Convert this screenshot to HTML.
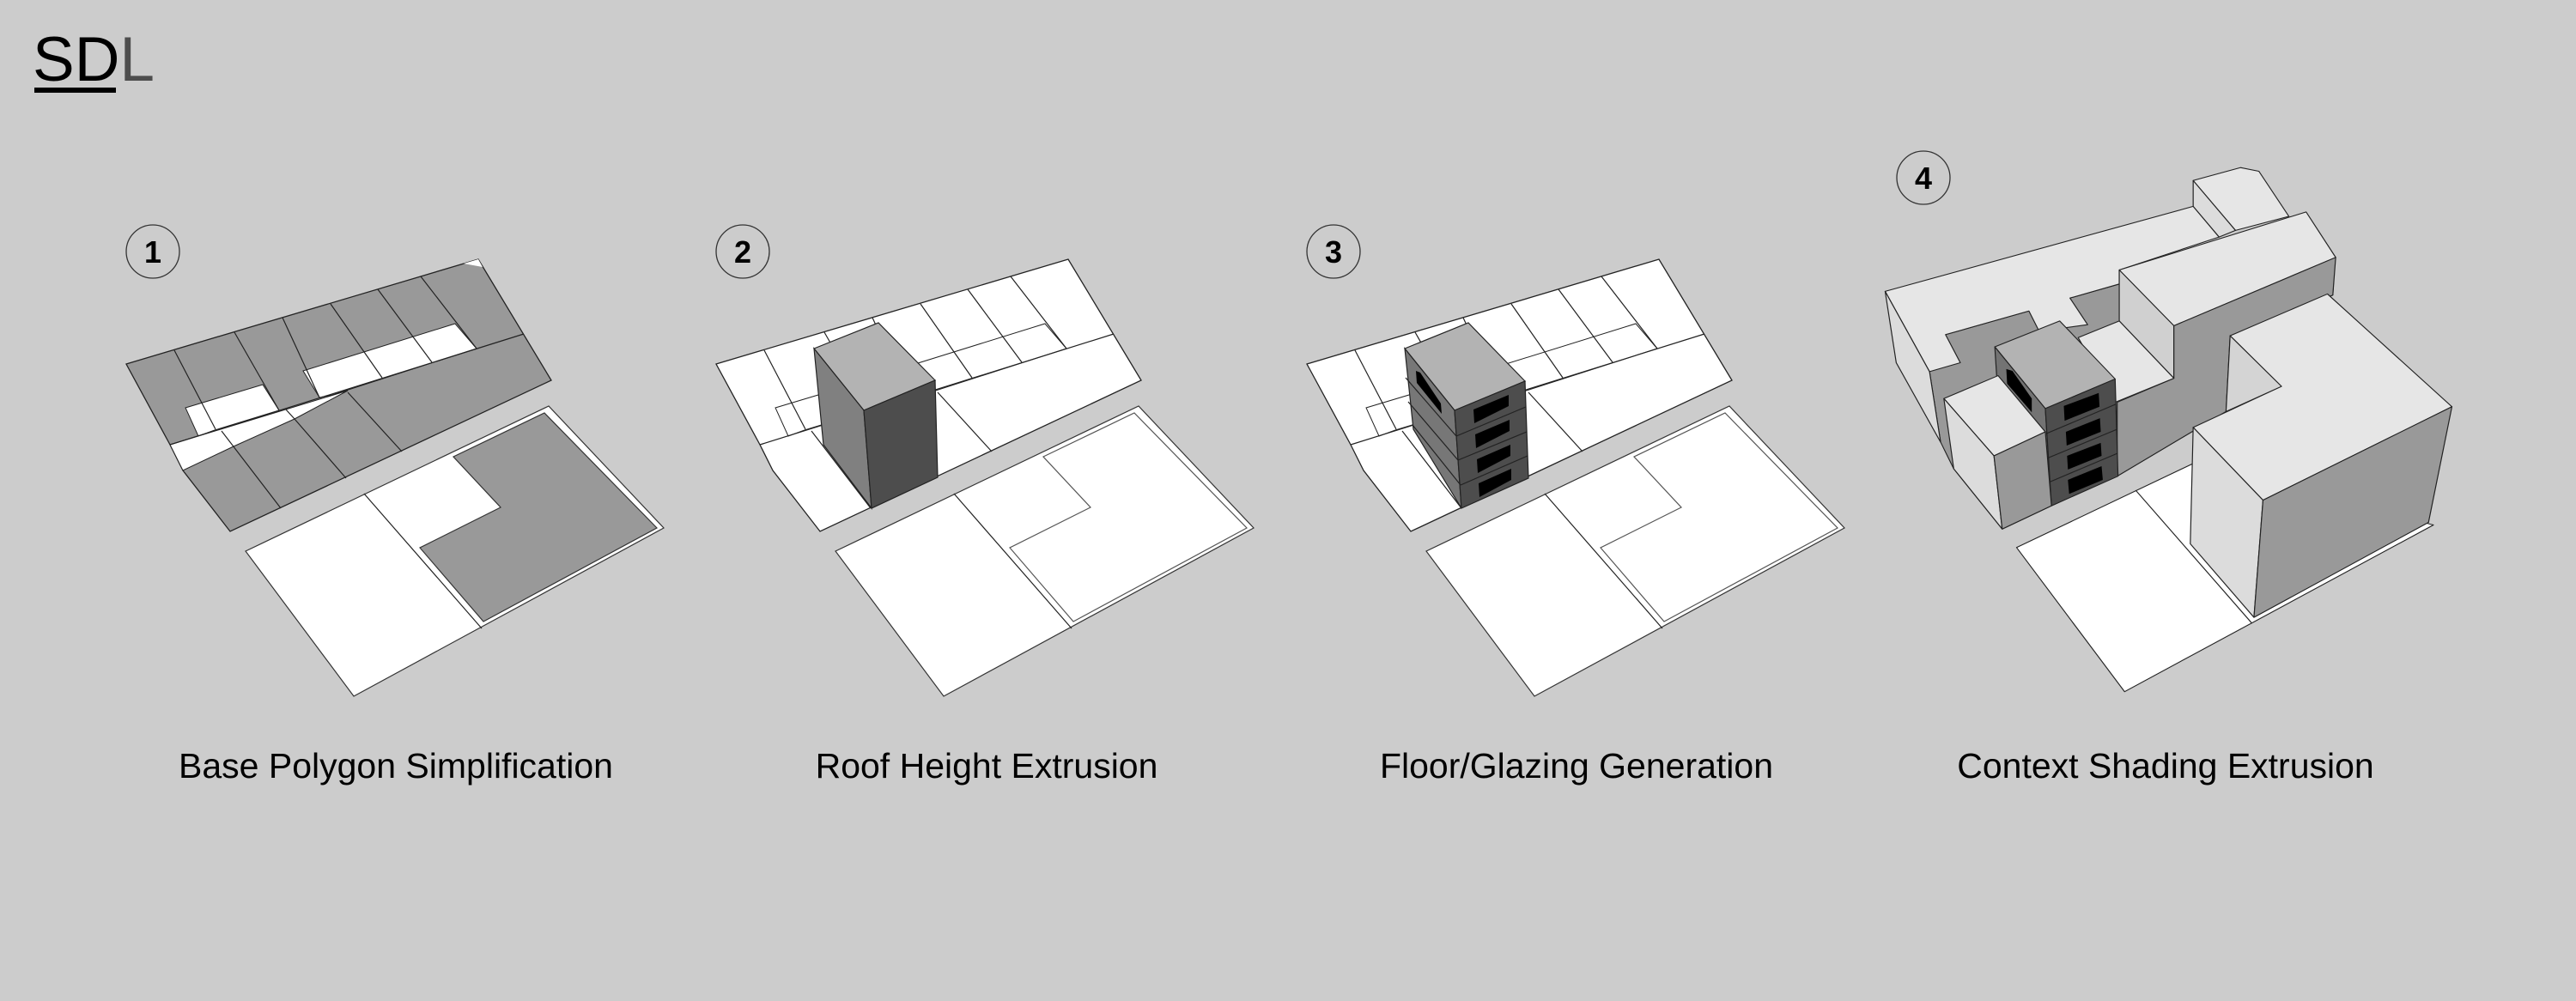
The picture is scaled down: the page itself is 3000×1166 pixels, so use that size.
<!DOCTYPE html>
<html><head><meta charset="utf-8"><style>
html,body{margin:0;padding:0;background:#cccccc;}
svg{display:block}
text{font-family:"Liberation Sans",Arial,sans-serif;}
</style></head><body>
<svg width="3000" height="1166" viewBox="0 0 3000 1166" xmlns="http://www.w3.org/2000/svg">
<rect width="3000" height="1166" fill="#cccccc"/>
<text x="38" y="94" font-size="73" fill="#000">SD<tspan fill="#4d4d4d">L</tspan></text>
<rect x="40" y="102" width="95" height="6" fill="#000"/>

<defs>
<g id="lines1" fill="none" stroke="#222" stroke-width="1.2">
<polyline points="203,408 251,500"/>
<polyline points="258,502 327,592"/>
<polyline points="273,387 325,478"/>
<polyline points="329,370 372,463"/>
<polyline points="333,477 343,488 403,557"/>
<polyline points="385,354 445,440"/>
<polyline points="405,457 468,526"/>
<polyline points="440,337 503,422"/>
<polyline points="490,322 555,406"/>
<polyline points="198,518 610,389"/>
</g>
</defs>

<!-- PANEL 1 -->
<g>
<circle cx="178" cy="293" r="31" fill="none" stroke="#333" stroke-width="1.3"/>
<text x="178" y="306" font-size="36" font-weight="bold" text-anchor="middle">1</text>
<polygon points="147,424 557,302 642,443 268,619 213,548 198,518" fill="#999" stroke="#222" stroke-width="1.3"/>
<polygon points="540,307 557,302 562,311" fill="#fff"/>
<polygon points="216,475 306,448 325,478 250,501 231,508" fill="#fff" stroke="#222" stroke-width="1"/>
<polygon points="198,518 405,455 343,488 272,520 213,548" fill="#fff" stroke="#222" stroke-width="1"/>
<polygon points="353,432 530,377 555,406 387,460 372,463" fill="#fff" stroke="#222" stroke-width="1"/>
<use href="#lines1"/>
<polygon points="286,642 639,473 773,615 412,811" fill="#fff" stroke="#333" stroke-width="1.2"/>
<line x1="424" y1="575" x2="561" y2="732" stroke="#222" stroke-width="1.2"/>
<polygon points="528,532 634,481 765,615 563,724 489,638 583,591" fill="#999" stroke="#333" stroke-width="1.2"/>
<text x="461" y="906" font-size="41" text-anchor="middle">Base Polygon Simplification</text>
</g>

<!-- PANEL 2 -->
<g transform="translate(687,0)">
<circle cx="178" cy="293" r="31" fill="none" stroke="#333" stroke-width="1.3"/>
<text x="178" y="306" font-size="36" font-weight="bold" text-anchor="middle">2</text>
<polygon points="147,424 557,302 642,443 268,619 213,548 198,518" fill="#fff" stroke="#222" stroke-width="1.3"/>
<polygon points="216,475 306,448 325,478 250,501 231,508" fill="none" stroke="#222" stroke-width="1"/>
<polygon points="353,432 530,377 555,406 387,460 372,463" fill="none" stroke="#222" stroke-width="1"/>
<use href="#lines1"/>
<polygon points="286,642 639,473 773,615 412,811" fill="#fff" stroke="#333" stroke-width="1.2"/>
<line x1="424" y1="575" x2="561" y2="732" stroke="#222" stroke-width="1.2"/>
<polygon points="528,532 634,481 765,615 563,724 489,638 583,591" fill="#fff" stroke="#555" stroke-width="1.2"/>
<g stroke="#222" stroke-width="1.2">
<polygon points="261,406 336,376 402,443 319,478" fill="#b3b3b3"/>
<polygon points="261,406 319,478 328,592 272,518" fill="#808080"/>
<polygon points="319,478 402,443 405,556 328,592" fill="#4d4d4d"/>
</g>
<text x="462" y="906" font-size="41" text-anchor="middle">Roof Height Extrusion</text>
</g>

<!-- PANEL 3 -->
<g transform="translate(1375,0)">
<circle cx="178" cy="293" r="31" fill="none" stroke="#333" stroke-width="1.3"/>
<text x="178" y="306" font-size="36" font-weight="bold" text-anchor="middle">3</text>
<polygon points="147,424 557,302 642,443 268,619 213,548 198,518" fill="#fff" stroke="#222" stroke-width="1.3"/>
<polygon points="216,475 306,448 325,478 250,501 231,508" fill="none" stroke="#222" stroke-width="1"/>
<polygon points="353,432 530,377 555,406 387,460 372,463" fill="none" stroke="#222" stroke-width="1"/>
<use href="#lines1"/>
<polygon points="286,642 639,473 773,615 412,811" fill="#fff" stroke="#333" stroke-width="1.2"/>
<line x1="424" y1="575" x2="561" y2="732" stroke="#222" stroke-width="1.2"/>
<polygon points="528,532 634,481 765,615 563,724 489,638 583,591" fill="#fff" stroke="#555" stroke-width="1.2"/>
<g stroke="#222" stroke-width="1.2">
<polygon points="261,406 335,376 401,444 319,478" fill="#b3b3b3"/>
<polygon points="261,406 319,478 327,592 271,500" fill="#777"/>
<polygon points="319,478 401,444 405,557 327,592" fill="#4d4d4d"/>
<line x1="262" y1="440" x2="321" y2="508"/>
<line x1="265" y1="468" x2="323" y2="536"/>
<line x1="270" y1="495" x2="326" y2="565"/>
<line x1="321" y1="508" x2="402" y2="474"/>
<line x1="323" y1="536" x2="403" y2="503"/>
<line x1="326" y1="565" x2="404" y2="531"/>
</g>
<g fill="#000">
<polygon points="341,477 382,460 382,473 342,493"/>
<polygon points="343,506 383,489 383,502 344,522"/>
<polygon points="345,535 384,518 384,531 346,551"/>
<polygon points="347,563 385,546 385,559 348,579"/>
<polygon points="274,432 279,434 303,470 304,482 275,446"/>
</g>
<text x="461" y="906" font-size="41" text-anchor="middle">Floor/Glazing Generation</text>
</g>

<!-- PANEL 4 -->
<circle cx="2240" cy="207" r="31" fill="none" stroke="#333" stroke-width="1.3"/>
<text x="2240" y="220" font-size="36" font-weight="bold" text-anchor="middle">4</text>
<g transform="translate(2150,150) scale(0.4783,0.4305)" stroke="#222" stroke-width="2.5" stroke-linejoin="round">
<polygon points="415,1133 850,903 1430,1072 678,1523" fill="#fff"/>
<line x1="705" y1="978" x2="988" y2="1338"/>
<polygon points="228,848 262,920 300,900" fill="#fff" stroke="none"/>
<polygon points="203,657 242,557 445,493 545,458 665,420 1190,350 1185,450 935,560 925,765 660,940 500,1020 380,1083 262,920 230,848" fill="#999"/>
<polygon points="845,140 960,105 1005,115 1078,237 948,275" fill="#e6e6e6"/>
<polygon points="845,140 948,275 908,293 845,210" fill="#dcdcdc"/>
<polygon points="95,440 845,210 908,293 665,382 665,420 545,458 588,530 470,548 445,493 242,557 278,633 203,657" fill="#e6e6e6"/>
<polygon points="95,440 203,657 230,848 122,633" fill="#dcdcdc"/>
<polygon points="665,382 1120,225 1192,348 798,533" fill="#e6e6e6"/>
<polygon points="665,382 798,533 798,675 665,520" fill="#d0d0d0"/>
<polygon points="798,533 1192,348 1185,450 935,560 925,765 660,940 660,740 798,675" fill="#999"/>
<polygon points="565,565 665,520 798,675 655,740" fill="#e6e6e6"/>
<polygon points="362,590 520,520 655,677 485,757" fill="#b3b3b3"/>
<polygon points="362,590 485,757 500,1020 380,900" fill="#737373"/>
<polygon points="485,757 655,677 662,940 500,1020" fill="#4d4d4d"/>
<line x1="487" y1="825" x2="657" y2="745"/>
<line x1="493" y1="890" x2="660" y2="813"/>
<line x1="497" y1="955" x2="661" y2="878"/>
<g fill="#000" stroke="none">
<polygon points="530,750 615,715 617,752 532,790"/>
<polygon points="535,820 618,783 620,820 537,857"/>
<polygon points="538,885 620,850 622,885 540,922"/>
<polygon points="540,950 622,913 625,950 543,988"/>
<polygon points="390,650 405,655 452,730 452,767 392,690"/>
</g>
<polygon points="238,730 370,668 485,820 360,885" fill="#e6e6e6"/>
<polygon points="238,730 360,885 380,1083 262,920" fill="#dcdcdc"/>
<polygon points="360,885 485,820 500,1020 380,1083" fill="#999"/>
<polygon points="935,560 1172,447 1475,752 1015,1005 845,808 1060,697" fill="#e6e6e6"/>
<polygon points="935,560 1060,697 925,765" fill="#d4d4d4"/>
<polygon points="845,808 1015,1005 993,1322 838,1123" fill="#dcdcdc"/>
<polygon points="1015,1005 1475,752 1418,1065 993,1322" fill="#999"/>
</g>
<text x="2522" y="906" font-size="41" text-anchor="middle">Context Shading Extrusion</text>
</svg>
</body></html>
